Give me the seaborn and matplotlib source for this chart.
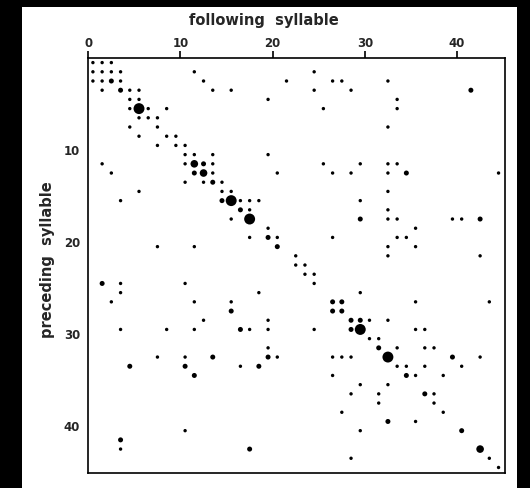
import numpy as np
import pandas as pd
import matplotlib
matplotlib.use("Agg")
import matplotlib.pyplot as plt
import seaborn as sns

# transition table: row = preceding syllable, col = following syllable
# level: 1 = few, 2 = more, 3 = many, 4 = most frequent
preceding = [
    0, 0, 0,
    1, 1, 1, 1, 1, 1,
    2, 2, 2, 2, 2, 2, 2, 2, 2,
    3, 3, 3, 3, 3, 3, 3, 3, 3,
    4, 4, 4, 4,
    5, 5, 5, 5, 5, 5,
    6, 6, 6,
    7, 7, 7,
    8, 8, 8,
    9, 9, 9,
    10, 10, 10, 10,
    11, 11, 11, 11, 11, 11, 11, 11, 11,
    12, 12, 12, 12, 12, 12, 12, 12, 12, 12,
    13, 13, 13, 13,
    14, 14, 14, 14,
    15, 15, 15, 15, 15, 15, 15,
    16, 16, 16,
    17, 17, 17, 17, 17, 17, 17, 17,
    18, 18,
    19, 19, 19, 19, 19, 19,
    20, 20, 20, 20, 20,
    21, 21, 21,
    22, 22,
    23, 23,
    24, 24, 24, 24,
    25, 25, 25,
    26, 26, 26, 26, 26, 26, 26,
    27, 27, 27,
    28, 28, 28, 28, 28, 28,
    29, 29, 29, 29, 29, 29, 29, 29, 29, 29, 29,
    30, 30,
    31, 31, 31, 31, 31,
    32, 32, 32, 32, 32, 32, 32, 32, 32, 32, 32,
    33, 33, 33, 33, 33, 33, 33, 33,
    34, 34, 34, 34, 34,
    35, 35,
    36, 36, 36, 36,
    37, 37,
    38, 38,
    39, 39,
    40, 40, 40,
    41,
    42, 42, 42,
    43, 43,
    44,
]
following = [
    0, 1, 2,
    0, 1, 2, 3, 11, 24,
    0, 1, 2, 3, 12, 21, 26, 27, 32,
    1, 3, 4, 5, 13, 15, 24, 28, 41,
    4, 5, 19, 33,
    4, 5, 6, 8, 25, 33,
    5, 6, 7,
    4, 7, 32,
    5, 8, 9,
    7, 9, 10,
    10, 11, 13, 19,
    1, 10, 11, 12, 13, 25, 29, 32, 33,
    2, 11, 12, 13, 20, 26, 28, 32, 34, 44,
    10, 12, 13, 14,
    5, 14, 15, 32,
    3, 14, 15, 16, 17, 18, 29,
    16, 17, 32,
    15, 17, 29, 32, 33, 39, 40, 42,
    19, 35,
    17, 19, 20, 26, 33, 34,
    7, 11, 20, 32, 35,
    22, 32, 42,
    22, 23,
    23, 24,
    1, 3, 10, 24,
    3, 18, 29,
    2, 11, 15, 26, 27, 35, 43,
    15, 26, 27,
    12, 19, 28, 29, 30, 32,
    3, 8, 11, 16, 17, 19, 24, 28, 29, 35, 36,
    30, 31,
    19, 31, 33, 36, 37,
    7, 10, 13, 19, 20, 26, 27, 28, 32, 39, 42,
    4, 10, 16, 18, 33, 34, 36, 40,
    11, 26, 34, 35, 38,
    29, 32,
    28, 31, 36, 37,
    31, 37,
    27, 38,
    32, 35,
    10, 29, 40,
    3,
    3, 17, 42,
    28, 43,
    44,
]
level = [
    1, 1, 1,
    1, 1, 1, 1, 1, 1,
    1, 1, 2, 1, 1, 1, 1, 1, 1,
    1, 2, 1, 1, 1, 1, 1, 1, 2,
    1, 1, 1, 1,
    1, 4, 1, 1, 1, 1,
    1, 1, 1,
    1, 1, 1,
    1, 1, 1,
    1, 1, 1,
    1, 1, 1, 1,
    1, 1, 3, 2, 1, 1, 1, 1, 1,
    1, 2, 3, 1, 1, 1, 1, 1, 2, 1,
    1, 1, 2, 1,
    1, 1, 1, 1,
    1, 2, 4, 1, 1, 1, 1,
    2, 1, 1,
    1, 4, 2, 1, 1, 1, 1, 2,
    1, 1,
    1, 2, 1, 1, 1, 1,
    1, 1, 2, 1, 1,
    1, 1, 1,
    1, 1,
    1, 1,
    2, 1, 1, 1,
    1, 1, 1,
    1, 1, 1, 2, 2, 1, 1,
    2, 2, 2,
    1, 1, 2, 2, 1, 1,
    1, 1, 1, 2, 1, 1, 1, 2, 4, 1, 1,
    1, 1,
    1, 2, 1, 1, 1,
    1, 1, 2, 2, 1, 1, 1, 1, 4, 2, 1,
    2, 2, 1, 2, 1, 1, 1, 1,
    2, 1, 2, 1, 1,
    1, 1,
    1, 1, 2, 1,
    1, 1,
    1, 1,
    2, 1,
    1, 1, 2,
    2,
    1, 2, 3,
    1, 1,
    1,
]

x_ticks = [0, 10, 20, 30, 40]
y_ticks = [10, 20, 30, 40]

df = pd.DataFrame({
    "prev": np.array(preceding) + 0.5,
    "foll": np.array(following) + 0.5,
    "n": level,
})

sns.set_style("white")
plt.rcParams["font.family"] = ["DejaVu Sans"]

W, H = 530, 488
fig = plt.figure(figsize=(W / 100, H / 100), dpi=100, facecolor="black")
paper = plt.Rectangle((22 / W, 0), (517 - 22) / W, 1 - 7 / H,
                      transform=fig.transFigure, facecolor="white",
                      edgecolor="none", zorder=-10)
fig.add_artist(paper)

ax = fig.add_axes([88.3 / W, 1 - 473 / H, (505 - 88.3) / W, (473 - 58) / H])
sns.scatterplot(data=df, x="foll", y="prev", size="n",
                sizes={1: 6, 2: 13, 3: 30, 4: 62},
                color="black", edgecolor="none", legend=False, ax=ax)

ax.set_xlim(0, 45.2)
ax.set_ylim(45.1, 0)
ax.xaxis.tick_top()
ax.set_xticks(x_ticks)
ax.set_yticks(y_ticks)
ax.tick_params(axis="both", direction="out", length=5, width=1.2,
               color="black", labelsize=8.5, pad=1)
for lab in ax.get_xticklabels() + ax.get_yticklabels():
    lab.set_fontweight("bold")
for sp in ax.spines.values():
    sp.set_visible(True)
    sp.set_color("black")
    sp.set_linewidth(1.2)
ax.set_xlabel("")
ax.set_ylabel("")

fig.text(264 / W, 1 - 21 / H, "following  syllable", ha="center", va="center",
         fontsize=10.5, fontweight="bold")
fig.text(48 / W, 1 - 260 / H, "preceding  syllable", ha="center", va="center",
         rotation=90, fontsize=10.5, fontweight="bold")

fig.savefig("out.png", dpi=100, facecolor=fig.get_facecolor())
